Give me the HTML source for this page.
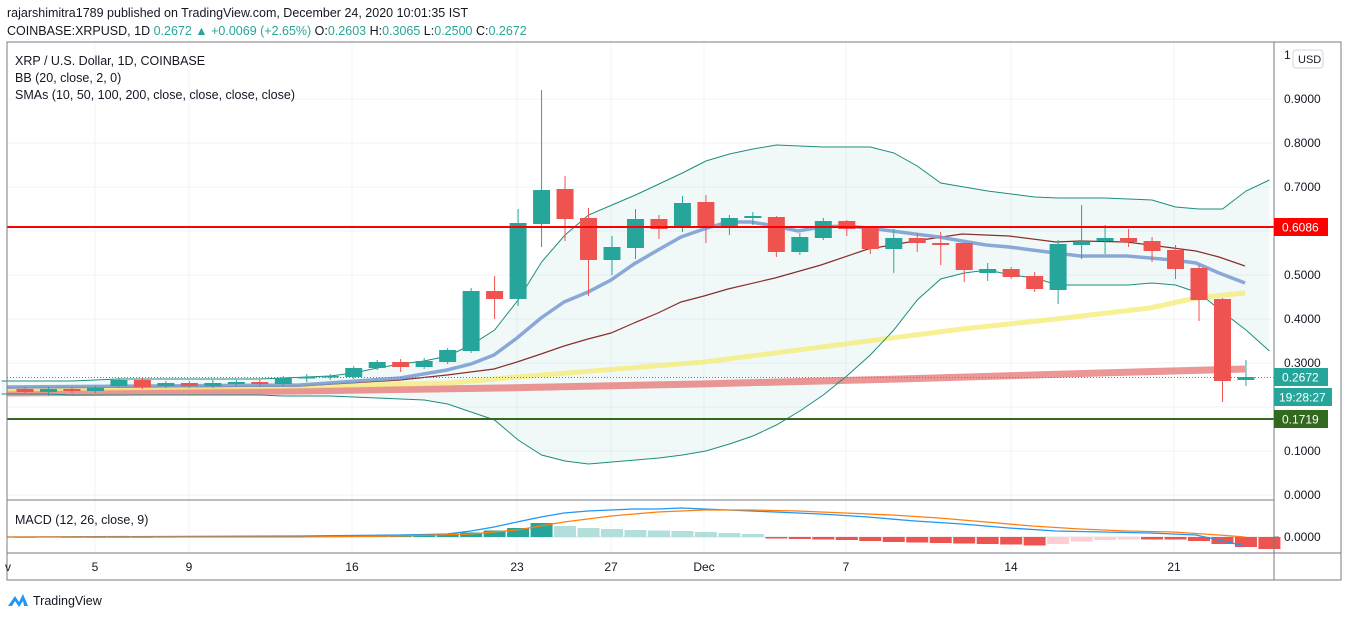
<!DOCTYPE html>
<html><head><meta charset="utf-8">
<style>
html,body{margin:0;padding:0;background:#fff;width:1348px;height:618px;overflow:hidden;font-family:"Liberation Sans",sans-serif;}
svg{position:absolute;left:0;top:0}
</style></head>
<body>
<svg id="s" width="1348" height="618" xmlns="http://www.w3.org/2000/svg" font-family="Liberation Sans, sans-serif">
<text x="7" y="17" font-size="12.5" fill="#131722">rajarshimitra1789 published on TradingView.com, December 24, 2020 10:01:35 IST</text>
<text x="7" y="35" font-size="12.5" fill="#131722">COINBASE:XRPUSD, 1D <tspan fill="#26a69a">0.2672 ▲ +0.0069 (+2.65%)</tspan> O:<tspan fill="#26a69a">0.2603</tspan> H:<tspan fill="#26a69a">0.3065</tspan> L:<tspan fill="#26a69a">0.2500</tspan> C:<tspan fill="#26a69a">0.2672</tspan></text>
<g id="grid"></g>
<g id="plot"></g>
<rect x="7" y="42" width="1334" height="538" fill="none" stroke="#787b86" stroke-width="1"/>
<line x1="1274" y1="42" x2="1274" y2="580" stroke="#787b86"/>
<line x1="7" y1="500" x2="1274" y2="500" stroke="#787b86"/>
<line x1="7" y1="553" x2="1341" y2="553" stroke="#787b86"/>
<text x="15" y="65" font-size="12.5" fill="#131722">XRP / U.S. Dollar, 1D, COINBASE</text>
<text x="15" y="82" font-size="12.5" fill="#131722">BB (20, close, 2, 0)</text>
<text x="15" y="99" font-size="12.5" fill="#131722">SMAs (10, 50, 100, 200, close, close, close, close)</text>
<text x="15" y="524" font-size="12.5" fill="#131722">MACD (12, 26, close, 9)</text>
<rect x="1293" y="50" width="30" height="18" rx="3" fill="#fff" stroke="#d1d4dc"/>
<text x="1298" y="63" font-size="11" fill="#131722">USD</text>
<g id="axis" font-size="12" fill="#131722"></g>
<g font-size="12" fill="#131722" text-anchor="middle">
<text x="8" y="571">v</text><text x="95" y="571">5</text><text x="189" y="571">9</text><text x="352" y="571">16</text><text x="517" y="571">23</text><text x="611" y="571">27</text><text x="704" y="571">Dec</text><text x="846" y="571">7</text><text x="1011" y="571">14</text><text x="1174" y="571">21</text>
</g>
<g transform="translate(8,592)"><path d="M0 14 L7 4 L11 10 L15 2 L20 14 L16 14 L15 9 L11 15 L7 9 L4 14Z" fill="#2196f3"/></g>
<text x="33" y="605" font-size="12.5" fill="#131722">TradingView</text>
</svg>
<script>
var NS="http://www.w3.org/2000/svg",G=document.getElementById('grid'),P=document.getElementById('plot'),A=document.getElementById('axis');
function el(p,t,a){var e=document.createElementNS(NS,t);for(var k in a)e.setAttribute(k,a[k]);p.appendChild(e);return e;}
function X(i){return 25+23.48*i;}
[95,189,352,517,611,704,846,1011,1174].forEach(function(x){el(G,'line',{x1:x,y1:42,x2:x,y2:553,stroke:'#f0f3fa'});});
for(var v=0;v<=9;v++){var y=495-44*v;el(G,'line',{x1:7,y1:y,x2:1274,y2:y,stroke:'#f0f3fa'});
 if(v!=2) {var t=el(A,'text',{x:1284,y:y+4});t.textContent=(v/10).toFixed(4);}}
var t1=el(A,'text',{x:1284,y:59});t1.textContent='1';
el(A,'line',{x1:1274,y1:537,x2:1279,y2:537,stroke:'#787b86'});
var t2=el(A,'text',{x:1284,y:541});t2.textContent='0.0000';
el(G,'line',{x1:7,y1:537,x2:1274,y2:537,stroke:'#e0e3eb'});
var up=[381,381,381,381,380,379,379,379,379,379,379,379,378,377,376,373,368,364,361,356,345,330,300,262,235,215,205,195,184,173,161,154,149,145,146,147,147,147,153,166,183,187,191,194,197,198,198,198,199,200,207,209,209,191,180];
var lo=[394,394,394,395,395,395,395,395,395,395,395,395,396,396,396,397,398,399,400,404,412,420,440,455,461,464,462,460,458,455,451,444,436,425,411,395,376,355,330,300,279,273,270,275,278,285,285,285,285,283,285,293,312,330,351];
function pts(a,s){return a.map(function(y,k){return X(k+(s||-1)).toFixed(1)+','+y;}).join(' ');}
var poly=pts(up)+' '+lo.map(function(y,k){return [X(k-1).toFixed(1),y];}).reverse().map(function(p){return p.join(',');}).join(' ');
el(P,'polygon',{points:poly,fill:'#26a69a',opacity:0.07});
el(P,'polyline',{points:'7,393 300,391 500,388 700,384 900,379 1100,373 1245,369',fill:'none',stroke:'#e57373',"stroke-width":7,opacity:0.75});
el(P,'polyline',{points:'7,389 300,386 450,383 517,377 704,362 892,338 962,329 1056,319 1150,308 1196,298 1245,293',fill:'none',stroke:'#f5ec7a',"stroke-width":5,opacity:0.8});
el(P,'polyline',{points:'7,388 300,386 400,380 447,375 494,369 517,362 541,354 564,346 588,339 611,333 634,323 658,313 681,302 704,296 728,289 775,278 821,265 868,249 892,245 915,241 962,234 1009,236 1056,242 1080,241 1127,242 1150,245 1173,248 1196,251 1219,257 1245,266',fill:'none',stroke:'#8b2d2d',"stroke-width":1.2});
el(P,'polyline',{points:'7,387 300,385 400,378 447,370 471,364 494,355 517,338 541,318 564,302 588,292 611,280 634,264 658,250 681,237 704,229 728,222 751,222 775,226 798,231 821,227 845,226 868,228 892,231 915,234 939,237 962,241 986,245 1009,247 1032,250 1056,253 1080,256 1127,256 1150,258 1173,260 1196,263 1219,273 1245,283',fill:'none',stroke:'#7e9fd3',"stroke-width":3.5,opacity:0.9});
el(P,'polyline',{points:pts(up),fill:'none',stroke:'#1e8c7f',"stroke-width":1});
el(P,'polyline',{points:pts(lo),fill:'none',stroke:'#1e8c7f',"stroke-width":1});
var C=[[389,392,387,394,0],[389,392,387,396,1],[389,391,387,393,0],[388,391,386,393,1],[380,386,378,388,1],[380,387,378,389,0],[383,386,381,388,1],[383,386,381,388,0],[383,386,380,388,1],[382,384,380,386,1],[382,384,380,386,0],[378,384,376,386,1],[377,378,374,382,1],[376,377,374,380,1],[368,377,366,379,1],[362,368,360,370,1],[362,367,359,372,0],[361,367,358,369,1],[350,362,348,364,1],
[291,351,288,353,1],[291,299,276,319,0],[223,299,209,306,1],[190,224,90,247,1],[189,219,176,241,0],[218,260,208,296,0],[247,260,236,275,1],[219,248,209,259,1],[219,229,215,239,0],[203,228,196,232,1],[202,228,195,243,0],[218,226,215,235,1],[216,218,212,225,1],[217,252,216,257,0],[237,252,233,255,1],[221,238,218,240,1],[221,229,220,236,0],
[227,249,226,254,0],[238,249,229,273,1],[238,243,233,252,0],[243,245,232,265,0],[243,270,243,282,0],[269,273,263,281,1],[269,277,267,279,0],[276,289,272,292,0],[244,290,240,304,1],[242,245,205,259,1],[238,241,225,254,1],[238,242,229,247,0],[241,251,237,262,0],[250,269,245,279,0],[268,300,265,321,0],[299,381,298,402,0],[377,380,360,386,1]];
C.forEach(function(c,i){var x=X(i),col=c[4]?'#26a69a':'#ef5350';
 el(P,'line',{x1:x,y1:c[2],x2:x,y2:c[3],stroke:col,"stroke-width":1});
 el(P,'rect',{x:x-8.5,y:c[0],width:17,height:Math.max(1.5,c[1]-c[0]),fill:col});});
el(P,'line',{x1:7,y1:227,x2:1274,y2:227,stroke:'#ff0000',"stroke-width":2});
el(P,'line',{x1:7,y1:419,x2:1274,y2:419,stroke:'#33691e',"stroke-width":2});
el(P,'line',{x1:7,y1:377.5,x2:1274,y2:377.5,stroke:'#26a69a',"stroke-dasharray":"1,2"});
var H=[-0.3,-0.3,-0.3,-0.3,-0.2,-0.2,0,0,0,0.2,0.3,0.3,0.3,0.4,0.5,0.7,1,1.3,1.6,2,2.6,3.3,4.5,6.5,9,14,11,9,8,7,6.5,6,5,4,3,-1.5,-2,-2.5,-3,-4,-5,-5.5,-6,-6.5,-7,-7.5,-8.5,-7,-4.5,-3,-2.5,-2.5,-2.5,-4,-7,-10,-12];
H.forEach(function(h,i){var x=X(i-3);if(x<8)return;var col;
 if(h>=0){col=(i>0&&h<H[i-1])?'#b2dfdb':'#26a69a';}else{col=(i>0&&h>H[i-1])?'#ffcdd2':'#ef5350';}
 var y=h>=0?537-h:537;el(P,'rect',{x:x-11,y:y,width:22,height:Math.max(0.8,Math.abs(h)),fill:col});});
el(P,'polyline',{points:'7,537 300,536 400,535 447,534 471,531 494,527 517,522 541,517 564,513 588,511 611,510 634,509 658,509 681,508 704,509 728,510 775,512 821,514 868,517 915,521 962,524 1009,528 1056,531 1103,532 1150,533 1196,535 1245,546',fill:'none',stroke:'#2196f3',"stroke-width":1.3});
el(P,'polyline',{points:'7,537 300,537 400,536 471,534 517,530 564,522 611,516 658,512 704,510 751,510 798,511 845,513 892,515 939,518 986,522 1032,526 1080,529 1127,531 1173,532 1219,535 1245,537',fill:'none',stroke:'#ff7f0e',"stroke-width":1.3});
function lab(y,txt,bg){el(A,'rect',{x:1274,y:y-9,width:54,height:18,fill:bg});var t=el(A,'text',{x:1282,y:y+4.5,fill:'#fff'});t.textContent=txt;}
lab(227,'0.6086','#ff0000');
lab(377,'0.2672','#26a69a');
el(A,'rect',{x:1274,y:388,width:58,height:18,fill:'#26a69a'});var tt=el(A,'text',{x:1279,y:401.5,fill:'#fff'});tt.textContent='19:28:27';
lab(419,'0.1719','#33691e');
</script>
</body></html>
